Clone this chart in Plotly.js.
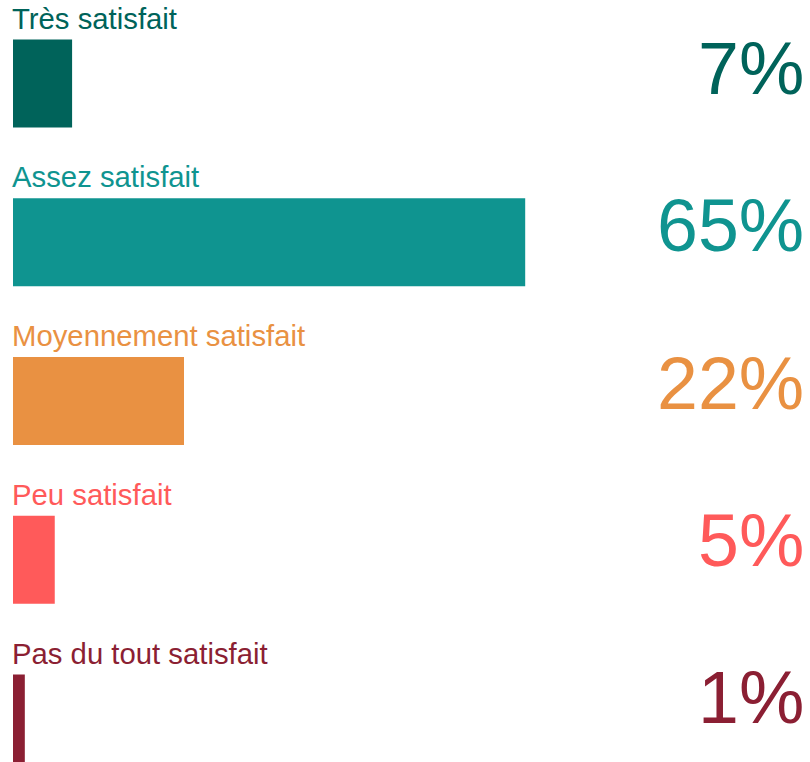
<!DOCTYPE html>
<html><head><meta charset="utf-8">
<script src="https://cdn.plot.ly/plotly-3.0.1.min.js"></script>
<style>html,body{margin:0;padding:0;background:#fff}#chart{width:810px;height:762px}</style>
</head><body><div id="chart"></div>
<script>
const categories = ["Très satisfait", "Assez satisfait", "Moyennement satisfait", "Peu satisfait", "Pas du tout satisfait"];
const values = [7.5, 65, 21.7, 5.3, 1.5];
const valueLabels = ["7%", "65%", "22%", "5%", "1%"];
const colors = ["#00635a", "#0f9490", "#e99142", "#ff5a5a", "#8b1f33"];

const idx = categories.map((_, i) => i);
const barW = 0.554;
const font = "Liberation Sans, Arial, sans-serif";

const annotations = [];
categories.forEach((c, i) => {
  annotations.push({
    x: 0, xref: "paper", y: i - barW / 2, yref: "y",
    xanchor: "left", yanchor: "bottom", yshift: 3, xshift: -3,
    text: c, showarrow: false,
    font: {family: font, size: 29.3, color: colors[i]}
  });
  annotations.push({
    x: 1, xref: "paper", y: i, yref: "y",
    xanchor: "right", yanchor: "middle", xshift: 5, yshift: 15 + i * 1.5,
    text: valueLabels[i], showarrow: false,
    font: {family: font, size: 73.5, color: colors[i]}
  });
});

Plotly.newPlot("chart", [{
  type: "bar", orientation: "h",
  x: values, y: idx, width: barW,
  marker: {color: colors},
  hoverinfo: "skip"
}], {
  width: 810, height: 762,
  margin: {l: 13, r: 9, t: 0, b: 0, pad: 0},
  paper_bgcolor: "#fff", plot_bgcolor: "#fff",
  xaxis: {range: [0, 100], visible: false, fixedrange: true},
  yaxis: {range: [4.274, -0.526], visible: false, fixedrange: true},
  showlegend: false,
  annotations: annotations
}, {staticPlot: true, displayModeBar: false});
</script></body></html>
